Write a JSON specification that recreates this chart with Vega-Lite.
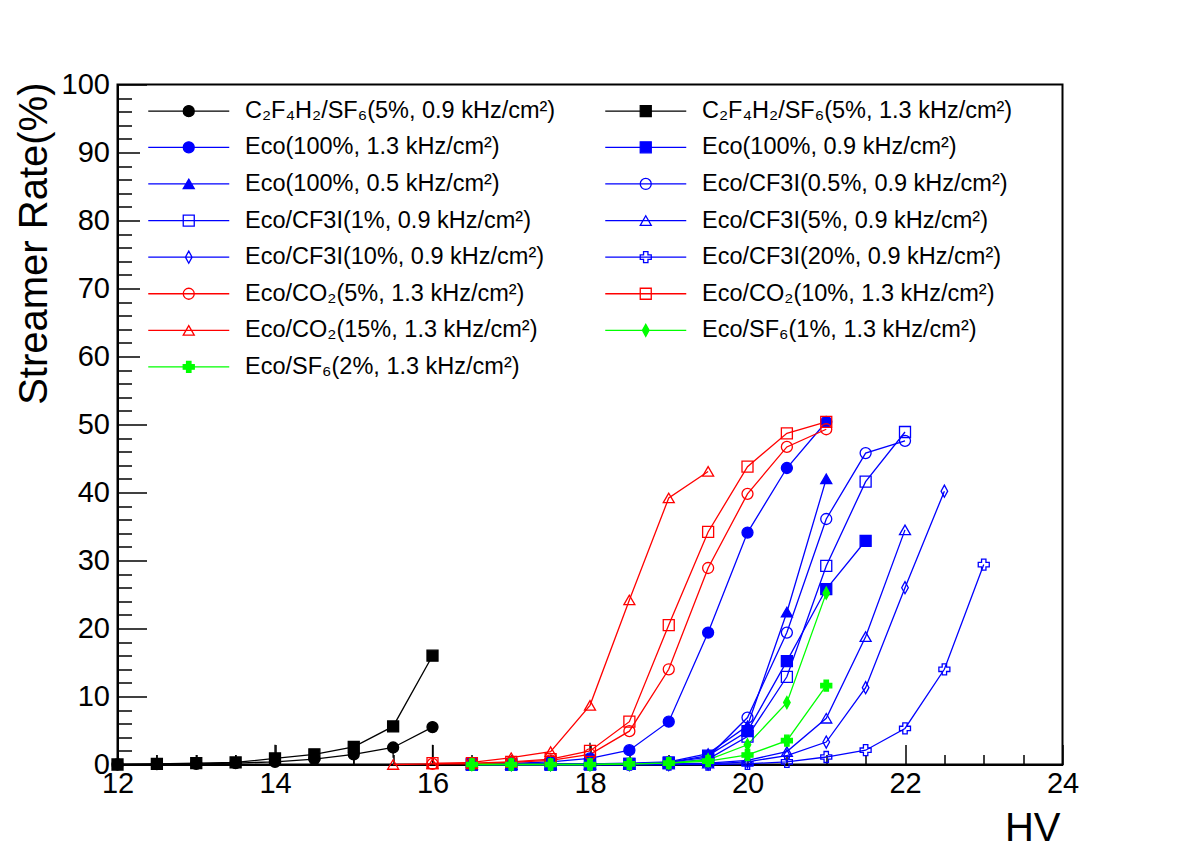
{
  "$schema": "https://vega.github.io/schema/vega-lite/v6.json",
  "width": 945,
  "height": 680,
  "autosize": {"type": "none"},
  "padding": {"left": 117.5, "top": 84.5, "right": 119.5, "bottom": 85.5},
  "background": "white",
  "config": {
    "view": {"stroke": "black", "strokeWidth": 2},
    "font": "Liberation Sans",
    "axis": {"grid": false}
  },
  "datasets": {
    "series": [
      {"id": "s01", "label": "C₂F₄H₂/SF₆(5%, 0.9 kHz/cm²)"},
      {"id": "s02", "label": "C₂F₄H₂/SF₆(5%, 1.3 kHz/cm²)"},
      {"id": "s03", "label": "Eco(100%, 1.3 kHz/cm²)"},
      {"id": "s04", "label": "Eco(100%, 0.9 kHz/cm²)"},
      {"id": "s05", "label": "Eco(100%, 0.5 kHz/cm²)"},
      {"id": "s06", "label": "Eco/CF3I(0.5%, 0.9 kHz/cm²)"},
      {"id": "s07", "label": "Eco/CF3I(1%, 0.9 kHz/cm²)"},
      {"id": "s08", "label": "Eco/CF3I(5%, 0.9 kHz/cm²)"},
      {"id": "s09", "label": "Eco/CF3I(10%, 0.9 kHz/cm²)"},
      {"id": "s10", "label": "Eco/CF3I(20%, 0.9 kHz/cm²)"},
      {"id": "s11", "label": "Eco/CO₂(5%, 1.3 kHz/cm²)"},
      {"id": "s12", "label": "Eco/CO₂(10%, 1.3 kHz/cm²)"},
      {"id": "s13", "label": "Eco/CO₂(15%, 1.3 kHz/cm²)"},
      {"id": "s14", "label": "Eco/SF₆(1%, 1.3 kHz/cm²)"},
      {"id": "s15", "label": "Eco/SF₆(2%, 1.3 kHz/cm²)"}
    ],
    "errs": [
      {"hv": 12.5, "lo": 0.2, "hi": 1.4},
      {"hv": 13, "lo": 0.2, "hi": 1.4},
      {"hv": 13.5, "lo": 0, "hi": 1.4},
      {"hv": 14, "lo": 0.2, "hi": 2.9},
      {"hv": 15, "lo": 0, "hi": 1.7},
      {"hv": 15.5, "lo": 1.0, "hi": 2.5},
      {"hv": 16, "lo": 0.2, "hi": 2.9},
      {"hv": 18, "lo": 2.0, "hi": 3.2}
    ],
    "points": [
      {"id": "s01", "hv": 12, "rate": 0}, {"id": "s01", "hv": 12.5, "rate": 0.05}, {"id": "s01", "hv": 13, "rate": 0.1}, {"id": "s01", "hv": 13.5, "rate": 0.2}, {"id": "s01", "hv": 14, "rate": 0.4}, {"id": "s01", "hv": 14.5, "rate": 0.8}, {"id": "s01", "hv": 15, "rate": 1.5}, {"id": "s01", "hv": 15.5, "rate": 2.5}, {"id": "s01", "hv": 16, "rate": 5.5},
      {"id": "s02", "hv": 12, "rate": 0}, {"id": "s02", "hv": 12.5, "rate": 0.1}, {"id": "s02", "hv": 13, "rate": 0.2}, {"id": "s02", "hv": 13.5, "rate": 0.3}, {"id": "s02", "hv": 14, "rate": 0.9}, {"id": "s02", "hv": 14.5, "rate": 1.5}, {"id": "s02", "hv": 15, "rate": 2.6}, {"id": "s02", "hv": 15.5, "rate": 5.6}, {"id": "s02", "hv": 16, "rate": 16.0},
      {"id": "s03", "hv": 16.5, "rate": 0.1}, {"id": "s03", "hv": 17, "rate": 0.15}, {"id": "s03", "hv": 17.5, "rate": 0.4}, {"id": "s03", "hv": 18, "rate": 0.9}, {"id": "s03", "hv": 18.5, "rate": 2.1}, {"id": "s03", "hv": 19, "rate": 6.3}, {"id": "s03", "hv": 19.5, "rate": 19.4}, {"id": "s03", "hv": 20, "rate": 34.1}, {"id": "s03", "hv": 20.5, "rate": 43.6}, {"id": "s03", "hv": 21, "rate": 50.4},
      {"id": "s04", "hv": 16.5, "rate": 0}, {"id": "s04", "hv": 17, "rate": 0}, {"id": "s04", "hv": 17.5, "rate": 0}, {"id": "s04", "hv": 18, "rate": 0.05}, {"id": "s04", "hv": 18.5, "rate": 0.1}, {"id": "s04", "hv": 19, "rate": 0.3}, {"id": "s04", "hv": 19.5, "rate": 1.3}, {"id": "s04", "hv": 20, "rate": 4.9}, {"id": "s04", "hv": 20.5, "rate": 15.2}, {"id": "s04", "hv": 21, "rate": 25.8}, {"id": "s04", "hv": 21.5, "rate": 32.9},
      {"id": "s05", "hv": 16.5, "rate": 0}, {"id": "s05", "hv": 17, "rate": 0}, {"id": "s05", "hv": 17.5, "rate": 0.1}, {"id": "s05", "hv": 18, "rate": 0.1}, {"id": "s05", "hv": 18.5, "rate": 0.2}, {"id": "s05", "hv": 19, "rate": 0.4}, {"id": "s05", "hv": 19.5, "rate": 1.6}, {"id": "s05", "hv": 20, "rate": 5.7}, {"id": "s05", "hv": 20.5, "rate": 22.4}, {"id": "s05", "hv": 21, "rate": 42.0},
      {"id": "s06", "hv": 16.5, "rate": 0}, {"id": "s06", "hv": 17, "rate": 0}, {"id": "s06", "hv": 17.5, "rate": 0}, {"id": "s06", "hv": 18, "rate": 0.1}, {"id": "s06", "hv": 18.5, "rate": 0.1}, {"id": "s06", "hv": 19, "rate": 0.3}, {"id": "s06", "hv": 19.5, "rate": 1.1}, {"id": "s06", "hv": 20, "rate": 6.9}, {"id": "s06", "hv": 20.5, "rate": 19.4}, {"id": "s06", "hv": 21, "rate": 36.1}, {"id": "s06", "hv": 21.5, "rate": 45.8}, {"id": "s06", "hv": 22, "rate": 47.6},
      {"id": "s07", "hv": 16.5, "rate": 0}, {"id": "s07", "hv": 17, "rate": 0}, {"id": "s07", "hv": 17.5, "rate": 0}, {"id": "s07", "hv": 18, "rate": 0}, {"id": "s07", "hv": 18.5, "rate": 0.1}, {"id": "s07", "hv": 19, "rate": 0.2}, {"id": "s07", "hv": 19.5, "rate": 0.8}, {"id": "s07", "hv": 20, "rate": 4.1}, {"id": "s07", "hv": 20.5, "rate": 12.9}, {"id": "s07", "hv": 21, "rate": 29.2}, {"id": "s07", "hv": 21.5, "rate": 41.6}, {"id": "s07", "hv": 22, "rate": 48.9},
      {"id": "s08", "hv": 17, "rate": 0}, {"id": "s08", "hv": 17.5, "rate": 0}, {"id": "s08", "hv": 18, "rate": 0}, {"id": "s08", "hv": 18.5, "rate": 0}, {"id": "s08", "hv": 19, "rate": 0.1}, {"id": "s08", "hv": 19.5, "rate": 0.2}, {"id": "s08", "hv": 20, "rate": 0.6}, {"id": "s08", "hv": 20.5, "rate": 1.9}, {"id": "s08", "hv": 21, "rate": 6.8}, {"id": "s08", "hv": 21.5, "rate": 18.8}, {"id": "s08", "hv": 22, "rate": 34.5},
      {"id": "s09", "hv": 17, "rate": 0}, {"id": "s09", "hv": 17.5, "rate": 0}, {"id": "s09", "hv": 18, "rate": 0}, {"id": "s09", "hv": 18.5, "rate": 0}, {"id": "s09", "hv": 19, "rate": 0}, {"id": "s09", "hv": 19.5, "rate": 0.1}, {"id": "s09", "hv": 20, "rate": 0.4}, {"id": "s09", "hv": 20.5, "rate": 1.3}, {"id": "s09", "hv": 21, "rate": 3.3}, {"id": "s09", "hv": 21.5, "rate": 11.3}, {"id": "s09", "hv": 22, "rate": 26.0}, {"id": "s09", "hv": 22.5, "rate": 40.2},
      {"id": "s10", "hv": 17.5, "rate": 0}, {"id": "s10", "hv": 18, "rate": 0}, {"id": "s10", "hv": 18.5, "rate": 0}, {"id": "s10", "hv": 19, "rate": 0}, {"id": "s10", "hv": 19.5, "rate": 0}, {"id": "s10", "hv": 20, "rate": 0.1}, {"id": "s10", "hv": 20.5, "rate": 0.4}, {"id": "s10", "hv": 21, "rate": 1.1}, {"id": "s10", "hv": 21.5, "rate": 2.1}, {"id": "s10", "hv": 22, "rate": 5.3}, {"id": "s10", "hv": 22.5, "rate": 14.0}, {"id": "s10", "hv": 23, "rate": 29.4},
      {"id": "s11", "hv": 16, "rate": 0.1}, {"id": "s11", "hv": 16.5, "rate": 0.1}, {"id": "s11", "hv": 17, "rate": 0.3}, {"id": "s11", "hv": 17.5, "rate": 0.6}, {"id": "s11", "hv": 18, "rate": 1.5}, {"id": "s11", "hv": 18.5, "rate": 4.9}, {"id": "s11", "hv": 19, "rate": 14.0}, {"id": "s11", "hv": 19.5, "rate": 28.9}, {"id": "s11", "hv": 20, "rate": 39.8}, {"id": "s11", "hv": 20.5, "rate": 46.7}, {"id": "s11", "hv": 21, "rate": 49.3},
      {"id": "s12", "hv": 16, "rate": 0.2}, {"id": "s12", "hv": 16.5, "rate": 0.2}, {"id": "s12", "hv": 17, "rate": 0.4}, {"id": "s12", "hv": 17.5, "rate": 0.8}, {"id": "s12", "hv": 18, "rate": 2.0}, {"id": "s12", "hv": 18.5, "rate": 6.3}, {"id": "s12", "hv": 19, "rate": 20.5}, {"id": "s12", "hv": 19.5, "rate": 34.2}, {"id": "s12", "hv": 20, "rate": 43.8}, {"id": "s12", "hv": 20.5, "rate": 48.7}, {"id": "s12", "hv": 21, "rate": 50.4},
      {"id": "s13", "hv": 15.5, "rate": 0}, {"id": "s13", "hv": 16, "rate": 0.1}, {"id": "s13", "hv": 16.5, "rate": 0.3}, {"id": "s13", "hv": 17, "rate": 1.0}, {"id": "s13", "hv": 17.5, "rate": 1.9}, {"id": "s13", "hv": 18, "rate": 8.7}, {"id": "s13", "hv": 18.5, "rate": 24.2}, {"id": "s13", "hv": 19, "rate": 39.2}, {"id": "s13", "hv": 19.5, "rate": 43.1},
      {"id": "s14", "hv": 16.5, "rate": 0}, {"id": "s14", "hv": 17, "rate": 0}, {"id": "s14", "hv": 17.5, "rate": 0}, {"id": "s14", "hv": 18, "rate": 0}, {"id": "s14", "hv": 18.5, "rate": 0.1}, {"id": "s14", "hv": 19, "rate": 0.2}, {"id": "s14", "hv": 19.5, "rate": 0.7}, {"id": "s14", "hv": 20, "rate": 2.9}, {"id": "s14", "hv": 20.5, "rate": 9.1}, {"id": "s14", "hv": 21, "rate": 25.2},
      {"id": "s15", "hv": 16.5, "rate": 0}, {"id": "s15", "hv": 17, "rate": 0}, {"id": "s15", "hv": 17.5, "rate": 0}, {"id": "s15", "hv": 18, "rate": 0}, {"id": "s15", "hv": 18.5, "rate": 0.1}, {"id": "s15", "hv": 19, "rate": 0.2}, {"id": "s15", "hv": 19.5, "rate": 0.5}, {"id": "s15", "hv": 20, "rate": 1.4}, {"id": "s15", "hv": 20.5, "rate": 3.5}, {"id": "s15", "hv": 21, "rate": 11.6}
    ]
  },
  "data": {"name": "points"},
  "encoding": {
    "x": {
      "field": "hv", "type": "quantitative",
      "scale": {"domain": [12, 24], "nice": false, "zero": false},
      "axis": {
        "title": "HV",
        "values": [12, 12.5, 13, 13.5, 14, 14.5, 15, 15.5, 16, 16.5, 17, 17.5, 18, 18.5, 19, 19.5, 20, 20.5, 21, 21.5, 22, 22.5, 23, 23.5, 24],
        "labelExpr": "datum.value % 2 === 0 ? '' + datum.value : ''",
        "tickSize": {"condition": {"test": "datum.value % 2 === 0", "value": -20}, "value": -10},
        "tickColor": "black", "tickWidth": 1.5,
        "domainColor": "black", "domainWidth": 2,
        "labelPadding": 25, "labelFontSize": 29, "labelColor": "black", "labelFont": "Liberation Sans",
        "labelOverlap": false, "labelFlush": false, "labelBound": false,
        "titleFontSize": 40, "titleFontWeight": "normal", "titleColor": "black", "titleFont": "Liberation Sans",
        "titleX": 942.5, "titleY": 76, "titleAlign": "right", "titleBaseline": "alphabetic"
      }
    },
    "y": {
      "field": "rate", "type": "quantitative",
      "scale": {"domain": [0, 100], "nice": false},
      "axis": {
        "title": "Streamer Rate(%)",
        "values": [0, 2, 4, 6, 8, 10, 12, 14, 16, 18, 20, 22, 24, 26, 28, 30, 32, 34, 36, 38, 40, 42, 44, 46, 48, 50, 52, 54, 56, 58, 60, 62, 64, 66, 68, 70, 72, 74, 76, 78, 80, 82, 84, 86, 88, 90, 92, 94, 96, 98, 100],
        "labelExpr": "datum.value % 10 === 0 ? '' + datum.value : ''",
        "tickSize": {"condition": {"test": "datum.value % 10 === 0", "value": -29}, "value": -14},
        "tickColor": "black", "tickWidth": 1.5,
        "domainColor": "black", "domainWidth": 2,
        "labelPadding": 37, "labelFontSize": 29, "labelColor": "black", "labelFont": "Liberation Sans",
        "labelOverlap": false, "labelFlush": false, "labelBound": false,
        "titleFontSize": 40, "titleFontWeight": "normal", "titleColor": "black", "titleFont": "Liberation Sans",
        "titleX": -71.5, "titleY": -2.5, "titleAngle": 270, "titleAlign": "right", "titleBaseline": "alphabetic"
      }
    }
  },
  "layer": [
    {
      "data": {"name": "errs"},
      "mark": {"type": "rule", "color": "black", "strokeWidth": 1.3},
      "encoding": {
        "y": {"field": "lo", "type": "quantitative"},
        "y2": {"field": "hi"}
      }
    },
    {
      "transform": [
        {"lookup": "id", "from": {"data": {"name": "series"}, "key": "id", "fields": ["label"]}}
      ],
      "mark": {"type": "line", "strokeWidth": 1.3},
      "encoding": {
        "color": {
          "field": "label", "type": "nominal",
          "scale": {
            "domain": ["C₂F₄H₂/SF₆(5%, 0.9 kHz/cm²)", "C₂F₄H₂/SF₆(5%, 1.3 kHz/cm²)", "Eco(100%, 1.3 kHz/cm²)", "Eco(100%, 0.9 kHz/cm²)", "Eco(100%, 0.5 kHz/cm²)", "Eco/CF3I(0.5%, 0.9 kHz/cm²)", "Eco/CF3I(1%, 0.9 kHz/cm²)", "Eco/CF3I(5%, 0.9 kHz/cm²)", "Eco/CF3I(10%, 0.9 kHz/cm²)", "Eco/CF3I(20%, 0.9 kHz/cm²)", "Eco/CO₂(5%, 1.3 kHz/cm²)", "Eco/CO₂(10%, 1.3 kHz/cm²)", "Eco/CO₂(15%, 1.3 kHz/cm²)", "Eco/SF₆(1%, 1.3 kHz/cm²)", "Eco/SF₆(2%, 1.3 kHz/cm²)"],
            "range": ["#000000", "#000000", "#0000ff", "#0000ff", "#0000ff", "#0000ff", "#0000ff", "#0000ff", "#0000ff", "#0000ff", "#ff0000", "#ff0000", "#ff0000", "#00ff00", "#00ff00"]
          },
          "legend": {
            "orient": "none", "legendX": 22.5, "legendY": 6.5, "direction": "horizontal", "columns": 2, "title": null,
            "padding": 8, "fillColor": "white", "strokeColor": null,
            "rowPadding": 11.6, "columnPadding": 46,
            "symbolSize": 182.25, "symbolStrokeWidth": 1.3, "symbolOffset": 29,
            "labelOffset": 44.5, "labelFontSize": 23.5, "labelFont": "Liberation Sans", "labelColor": "black", "labelLimit": 600,
            "encode": {
              "symbols": {
                "update": {
                  "shape": {"signal": "['M-6,0H6M-0.815,0A0.815,0.815,0,1,0,0.815,0A0.815,0.815,0,1,0,-0.815,0Z','M-6,0H6M-0.815,-0.815H0.815V0.815H-0.815Z','M-6,0H6M-0.815,0A0.815,0.815,0,1,0,0.815,0A0.815,0.815,0,1,0,-0.815,0Z','M-6,0H6M-0.815,-0.815H0.815V0.815H-0.815Z','M-6,0H6M0,-0.705L0.815,0.705H-0.815Z','M-6,0H6M-0.815,0A0.815,0.815,0,1,0,0.815,0A0.815,0.815,0,1,0,-0.815,0Z','M-6,0H6M-0.815,-0.815H0.815V0.815H-0.815Z','M-6,0H6M0,-0.705L0.815,0.705H-0.815Z','M-6,0H6M0,-0.9L0.49,0L0,0.9L-0.49,0Z','M-6,0H6M-0.326,-0.815H0.326V-0.326H0.815V0.326H0.326V0.815H-0.326V0.326H-0.815V-0.326H-0.326Z','M-6,0H6M-0.815,0A0.815,0.815,0,1,0,0.815,0A0.815,0.815,0,1,0,-0.815,0Z','M-6,0H6M-0.815,-0.815H0.815V0.815H-0.815Z','M-6,0H6M0,-0.705L0.815,0.705H-0.815Z','M-6,0H6M0,-0.9L0.49,0L0,0.9L-0.49,0Z','M-6,0H6M-0.326,-0.815H0.326V-0.326H0.815V0.326H0.326V0.815H-0.326V0.326H-0.815V-0.326H-0.326Z'][datum.index]"},
                  "fill": {"signal": "['#000000','#000000','#0000ff','#0000ff','#0000ff','transparent','transparent','transparent','transparent','transparent','transparent','transparent','transparent','#00ff00','#00ff00'][datum.index]"}
                }
              }
            }
          }
        }
      }
    },
    {
      "mark": {"type": "point", "size": 121, "strokeWidth": 1.3, "opacity": 1},
      "encoding": {
        "shape": {
          "field": "id", "type": "nominal", "legend": null,
          "scale": {
            "domain": ["s01", "s02", "s03", "s04", "s05", "s06", "s07", "s08", "s09", "s10", "s11", "s12", "s13", "s14", "s15"],
            "range": ["circle", "square", "circle", "square", "triangle-up", "circle", "square", "triangle-up", "M0,-1.1L0.6,0L0,1.1L-0.6,0Z", "cross", "circle", "square", "triangle-up", "M0,-1.1L0.6,0L0,1.1L-0.6,0Z", "cross"]
          }
        },
        "fill": {
          "field": "id", "type": "nominal", "legend": null,
          "scale": {
            "domain": ["s01", "s02", "s03", "s04", "s05", "s06", "s07", "s08", "s09", "s10", "s11", "s12", "s13", "s14", "s15"],
            "range": ["#000000", "#000000", "#0000ff", "#0000ff", "#0000ff", "transparent", "transparent", "transparent", "transparent", "transparent", "transparent", "transparent", "transparent", "#00ff00", "#00ff00"]
          }
        },
        "stroke": {
          "field": "id", "type": "nominal", "legend": null,
          "scale": {
            "domain": ["s01", "s02", "s03", "s04", "s05", "s06", "s07", "s08", "s09", "s10", "s11", "s12", "s13", "s14", "s15"],
            "range": ["#000000", "#000000", "#0000ff", "#0000ff", "#0000ff", "#0000ff", "#0000ff", "#0000ff", "#0000ff", "#0000ff", "#ff0000", "#ff0000", "#ff0000", "#00ff00", "#00ff00"]
          }
        }
      }
    }
  ]
}
